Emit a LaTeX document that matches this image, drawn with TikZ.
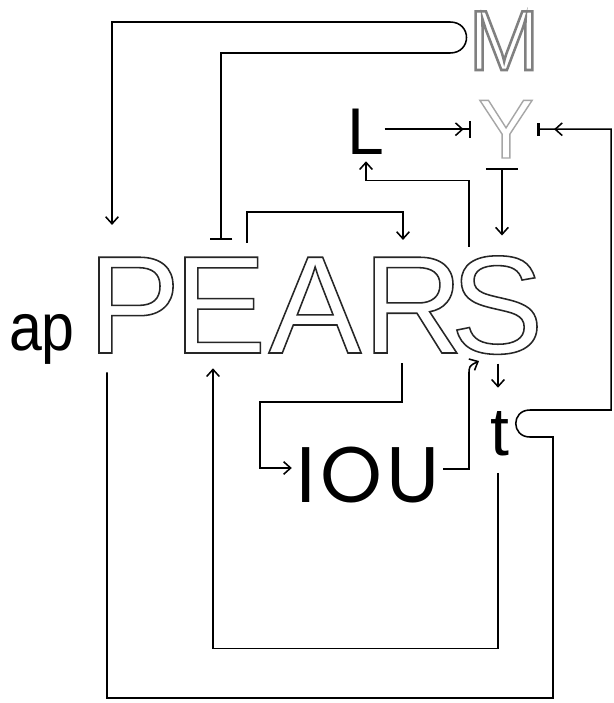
\documentclass[tikz,border=0pt]{standalone}
\usepackage{fontspec}
\setmainfont{Liberation Sans}
\newfontfamily\geofont[LetterSpace=6]{Poppins}
\newfontfamily\apfont[FakeStretch=0.88]{Liberation Sans}
\usetikzlibrary{arrows.meta, calc}

% hollow capitals: glyphs stroked, not filled
\newcommand{\hollow}[3][0.8]{{\color{#2}\special{pdf:literal direct #1 w 1 Tr}#3\special{pdf:literal direct 0 Tr}}}

\begin{document}
\begin{tikzpicture}[x=0.025cm, y=-0.025cm,
    wire/.style={line width=1.1pt},
    act/.style={wire, -{Straight Barb[length=5pt,width=9pt]}},
    letter/.style={anchor=base, inner sep=0pt},
    big/.style={letter, font=\fontsize{99}{99}\selectfont}]
    \fill[white] (0,0) rectangle (613,703);
    \useasboundingbox (0,0) rectangle (613,703);
    % Word
    \node[letter, font=\apfont\fontsize{47.7}{48}\selectfont] (ap) at (42,350) {ap};
    \foreach \l/\x in {P/134,E/220,A/315,R/413,S/497}
        \node[big] (\l) at (\x,353) {\hollow[1.1]{black!85}{\l}};
    % Upper letters
    \node[letter, font=\fontsize{60.5}{62}\selectfont] (M) at (504,70) {\hollow[1.8]{black!50}{M}};
    \node[letter, font=\fontsize{59.5}{61}\selectfont] (Y) at (506,158) {\hollow[1.0]{black!35}{Y}};
    \node[letter, font=\fontsize{47}{47}\selectfont] (L) at (366,154) {L};
    % Lower letters
    \node[letter, font=\geofont\fontsize{56}{56}\selectfont] (IOU) at (368,502) {IOU};
    \node[letter, font=\fontsize{48.4}{48}\selectfont] (t) at (500,455) {t};
    % M hairpin
    \draw[wire, {Straight Barb[length=5pt,width=9pt]}-{Bar[width=16pt]}]
        ($(P.north)+(-22,-32)$) |- (450,22) .. controls (472,22) and (472,53) .. (450,53)
        -| ($(E.north)+(1,-17)$);
    % E to R
    \draw[act] ($(E.north)+(27,-14)$) -- ++(0,-31) -| ($(R.north)+(-10,-17)$);
    % S to L, L to Y
    \draw[act] ($(S.north)+(-28,-9)$) |- ($(L.south)+(0,26)$) -- ($(L.south)+(0,7)$);
    \draw[wire, -{Straight Barb[length=5pt,width=9pt,sep=4pt] Bar[width=12pt]}]
        (L.east |- Y.west) -- ($(Y.west)+(-7,0)$);
    % Y to S
    \draw[wire, {Bar[width=23pt]}-{Straight Barb[length=5pt,width=9pt]}]
        ($(Y.south)+(-4,10)$) -- ($(S.north)+(5,-20)$);
    % long loop P to Y
    \draw[wire, -{Straight Barb[length=5pt,width=9pt,sep=10pt] Bar[width=9pt,line width=2pt]}]
        ($(P.south)+(-27,19)$) |- (553,698) |- (530,437)
        .. controls (511,437) and (511,410) .. (530,410)
        -| ($(Y.east)+(77,0)$) -- ($(Y.east)+(3,0)$);
    % R to IOU, IOU to S
    \draw[act] ($(R.south)+(-11,10)$) |- (260,402) |- ($(IOU.base west)+(-4,-34)$);
    \draw[act] ($(IOU.base east)+(3,-33)$) -| (469,375) .. controls (469,366) .. (479,361);
    % S to t, t to E
    \draw[act] ($(S.south)+(1,9)$) -- ($(t.north)+(-2,-23)$);
    \draw[act] ($(t.south)+(-2,17)$) |- ($(E.south)+(-7,295)$) -- ($(E.south)+(-7,15)$);
\end{tikzpicture}
\end{document}
